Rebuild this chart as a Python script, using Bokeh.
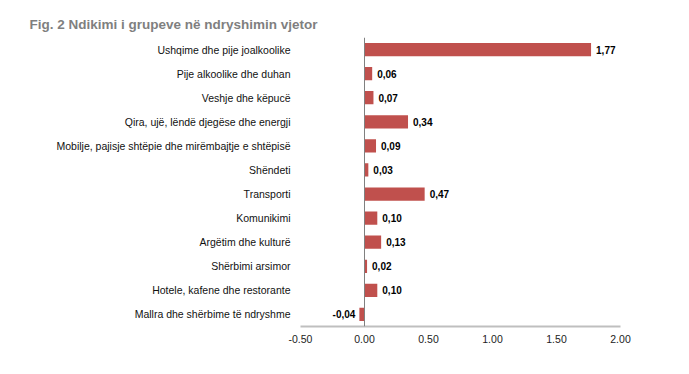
from bokeh.plotting import figure
from bokeh.models import ColumnDataSource, FactorRange, Range1d, Span, Title, FixedTicker, CustomJSTickFormatter
from bokeh.core.properties import value
from bokeh.embed import file_html
from bokeh.resources import INLINE

categories = [
    "Ushqime dhe pije joalkoolike",
    "Pije alkoolike dhe duhan",
    "Veshje dhe këpucë",
    "Qira, ujë, lëndë djegëse dhe energji",
    "Mobilje, pajisje shtëpie dhe mirëmbajtje e shtëpisë",
    "Shëndeti",
    "Transporti",
    "Komunikimi",
    "Argëtim dhe kulturë",
    "Shërbimi arsimor",
    "Hotele, kafene dhe restorante",
    "Mallra dhe shërbime të ndryshme",
]
values = [1.77, 0.06, 0.07, 0.34, 0.09, 0.03, 0.47, 0.10, 0.13, 0.02, 0.10, -0.04]
x_ticks = [-0.5, 0.0, 0.5, 1.0, 1.5, 2.0]
title_text = "Fig. 2 Ndikimi i grupeve në ndryshimin vjetor"

FONT = "Liberation Sans"
BAR = "#c0504d"

labels = [f"{v:.2f}".replace(".", ",") for v in values]
aligns = ["left" if v >= 0 else "right" for v in values]
offs = [5 if v >= 0 else -4 for v in values]

src = ColumnDataSource(dict(cat=categories, val=values, lab=labels, al=aligns, off=offs))

W, H = 670, 355
p = figure(
    width=W, height=H,
    y_range=FactorRange(factors=list(reversed(categories))),
    x_range=Range1d(-0.5, 2.0),
    output_backend="svg", toolbar_location=None,
    min_border_left=300, min_border_right=50, min_border_top=37, min_border_bottom=29,
)
p.outline_line_color = None
p.xgrid.grid_line_color = None
p.ygrid.grid_line_color = None
p.background_fill_color = "white"
p.border_fill_color = "white"

p.hbar(y="cat", right="val", left=0, height=0.55, source=src, fill_color=BAR, line_color=None)

p.add_layout(Span(location=0, dimension="height", line_color="#808080", line_width=1))

p.text(x="val", y="cat", text="lab", source=src, text_align="al", x_offset="off",
       text_baseline="middle", text_font=value(FONT), text_font_size="10px",
       text_font_style="bold", text_color="black")

# x axis
xa = p.xaxis[0]
xa.ticker = FixedTicker(ticks=x_ticks)
xa.formatter = CustomJSTickFormatter(code="return tick.toFixed(2);")
xa.axis_line_color = "#bfbfbf"
xa.axis_line_width = 2
xa.major_tick_line_color = None
xa.minor_tick_line_color = None
xa.major_tick_out = 0
xa.major_tick_in = 0
xa.major_label_text_font = FONT
xa.major_label_text_font_size = "10.5px"
xa.major_label_text_color = "#222222"
xa.major_label_standoff = 8

# y axis
ya = p.yaxis[0]
ya.axis_line_color = None
ya.major_tick_line_color = None
ya.minor_tick_line_color = None
ya.major_tick_out = 0
ya.major_tick_in = 0
ya.major_label_text_font = FONT
ya.major_label_text_font_size = "10.5px"
ya.major_label_text_color = "#111111"
ya.major_label_standoff = 10

p.add_layout(Title(text=title_text, align="left", offset=-271, standoff=10,
                   vertical_align="middle",
                   text_font=FONT, text_font_size="13.5px",
                   text_font_style="bold", text_color="#7f7f7f"), "above")

open("out.html", "w").write(file_html(p, INLINE))
